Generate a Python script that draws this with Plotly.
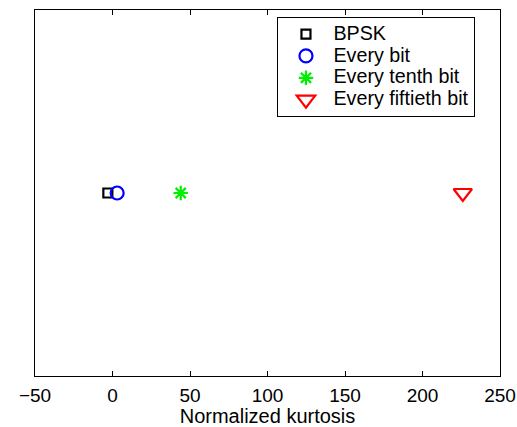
import plotly.graph_objects as go

# Normalized kurtosis of each signal
names = ["BPSK", "Every bit", "Every tenth bit", "Every fiftieth bit"]
kurtosis = [-3, 3, 44, 226]
level = [0, 0, 0, 0]
colors = ["black", "blue", "#00ee00", "red"]
symbols = ["square-open", "circle-open", "asterisk-open", "triangle-down-open"]
sizes = [9, 13, 12, 16]

x_ticks = [-50, 0, 50, 100, 150, 200, 250]
x_tick_text = ["\u221250", "0", "50", "100", "150", "200", "250"]

fig = go.Figure()
for n, xv, yv, c, s, sz in zip(names, kurtosis, level, colors, symbols, sizes):
    fig.add_trace(go.Scatter(
        x=[xv], y=[yv], mode="markers",
        # legend rows are spaced by the legend font; the label itself is drawn larger
        name=f"<span style='font-size:19.7px'>{n}</span>",
        marker=dict(symbol=s, size=sz, color=c, line=dict(color=c, width=2.2)),
    ))

axis_common = dict(
    showline=True, linecolor="black", linewidth=1.2, mirror="ticks",
    ticks="inside", ticklen=5, tickcolor="black", showgrid=False, zeroline=False,
    automargin=False,
)
fig.update_xaxes(range=[-50, 250], tickvals=x_ticks, ticktext=x_tick_text,
                 ticklabelstandoff=2, tickfont=dict(size=19),
                 title=dict(text="Normalized kurtosis", standoff=2,
                            font=dict(size=20)),
                 **axis_common)
fig.update_yaxes(range=[-1, 1], showticklabels=False, tickvals=[], **axis_common)

fig.update_layout(
    width=517, height=427,
    margin=dict(l=35, r=17, t=10, b=51),
    paper_bgcolor="white", plot_bgcolor="white",
    font=dict(family="Liberation Sans, Arial, sans-serif", size=19, color="black"),
    legend=dict(x=0.521, y=0.981, xanchor="left", yanchor="top",
                bordercolor="black", borderwidth=1.2, bgcolor="white",
                font=dict(size=14.5), itemwidth=45, tracegroupgap=0,
                entrywidth=143, entrywidthmode="pixels"),
)

fig.write_html("out.html")
